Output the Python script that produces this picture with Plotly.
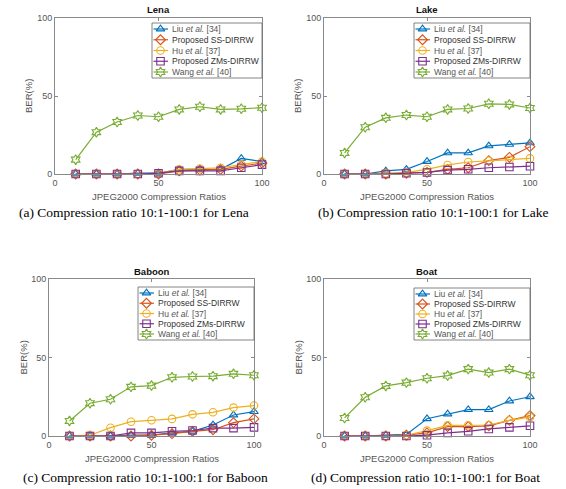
import plotly.graph_objects as go

W, H = 566, 489

# ---------------- data ----------------
x_ratio = [10, 20, 30, 40, 50, 60, 70, 80, 90, 100]
x_ticks = [0, 50, 100]
y_ticks = [0, 50, 100]

method_names = ["Liu <i>et al.</i> [34]", "Proposed SS-DIRRW", "Hu <i>et al.</i> [37]",
                "Proposed ZMs-DIRRW", "Wang <i>et al.</i> [40]"]

lena_liu = [0, 0, 0, 0.5, 0.5, 3, 3, 3, 10, 8]
lena_ss = [0, 0, 0, 0, 0, 2, 2.5, 3, 5, 7]
lena_hu = [0, 0, 0, 0, 0.5, 3, 3.5, 4, 6, 8]
lena_zms = [0, 0, 0, 0, 0.5, 2, 2, 2, 4, 6]
lena_wang = [9.2, 26.8, 33.3, 37.5, 36.7, 41.4, 43.1, 41.4, 41.8, 42.5]

lake_liu = [0, 0, 2, 3, 8, 13.5, 13.5, 18, 19, 20]
lake_ss = [0, 0, 0, 0.5, 1, 3, 4, 8.6, 10.7, 17.5]
lake_hu = [0, 0, 0.5, 1, 3, 5.8, 7.7, 8.5, 9, 10]
lake_zms = [0, 0, 0, 0.5, 1, 2.5, 3, 4, 4.5, 5]
lake_wang = [13.5, 30, 36, 37.8, 36.7, 41.4, 42, 45, 44.6, 42.3]

baboon_liu = [0, 0, 0, 0.5, 0.5, 2, 3, 7, 13.4, 15.5]
baboon_ss = [0, 0, 0, 0, 0.5, 1.5, 3, 4, 8.5, 10.9]
baboon_hu = [0, 0.5, 5.3, 9.1, 10, 10.9, 13.8, 15.1, 18.1, 19.4]
baboon_zms = [0, 0, 0, 2, 2, 3, 3.5, 5, 5, 5.5]
baboon_wang = [9.6, 20.9, 23.4, 31.3, 32.1, 37.4, 37.9, 38.1, 39.6, 38.7]

boat_liu = [0, 0, 0.5, 1, 11, 14, 16.8, 16.8, 22.3, 25]
boat_ss = [0, 0, 0, 0.5, 2, 6, 6, 6.5, 10, 13]
boat_hu = [0, 0, 0, 0.5, 3.4, 6.8, 6.8, 7, 10, 12]
boat_zms = [0, 0, 0, 0, 0.5, 2, 3, 4.5, 5.5, 6.5]
boat_wang = [11.5, 24.7, 31.9, 34, 36.8, 38.5, 42.6, 40.4, 42.6, 38.7]

panel_titles = ["Lena", "Lake", "Baboon", "Boat"]
captions = ["(a) Compression ratio 10:1-100:1 for Lena",
            "(b) Compression ratio 10:1-100:1 for Lake",
            "(c) Compression ratio 10:1-100:1 for Baboon",
            "(d) Compression ratio 10:1-100:1 for Boat"]
x_title = "JPEG2000 Compression Ratios"
y_title = "BER(%)"

panel_series = [
    [lena_liu, lena_ss, lena_hu, lena_zms, lena_wang],
    [lake_liu, lake_ss, lake_hu, lake_zms, lake_wang],
    [baboon_liu, baboon_ss, baboon_hu, baboon_zms, baboon_wang],
    [boat_liu, boat_ss, boat_hu, boat_zms, boat_wang],
]

# ---------------- styles / layout (pixels) ----------------
colors = ["#0072BD", "#D95319", "#EDB120", "#7E2F8E", "#77AC30"]
symbols = ["triangle-up-open", "diamond-open", "circle-open", "square-open", "hexagram-open"]
legend_text_colors = ["#555555", "#333333", "#555555", "#333333", "#555555"]

# plot area: left, right, top, bottom
boxes = [(55, 262, 18, 174), (324, 530, 18, 174), (49, 254, 279, 436), (324, 530, 279, 436)]
# legend boxes: left, right, top, bottom
leg_boxes = [(152, 262, 23, 78), (414, 530, 23, 78), (138, 254, 287, 340), (414, 530, 288, 340)]
caption_pos = [(134, 213), (433, 213), (145, 477), (425, 477)]

SANS = "Liberation Sans, Arial, sans-serif"
SERIF = "Liberation Serif, Times New Roman, serif"
AX_COLOR = "#8a8a8a"
TICK_FONT = dict(family=SANS, size=9, color="#555555")

fig = go.Figure()
annotations = []
shapes = []

def pa(text, px, py, font, **kw):
    d = dict(text=text, x=px / W, y=1 - py / H, xref="paper", yref="paper", showarrow=False,
             xanchor="center", yanchor="middle", font=font)
    d.update(kw)
    return d

for p, (l, r, t, b) in enumerate(boxes):
    idx = "" if p == 0 else str(p + 1)
    xa, ya = "x" + idx, "y" + idx
    for s in range(5):
        fig.add_trace(go.Scatter(
            x=x_ratio, y=panel_series[p][s], mode="lines+markers",
            xaxis=xa, yaxis=ya, showlegend=False, cliponaxis=False,
            line=dict(color=colors[s], width=1.2),
            marker=dict(symbol=symbols[s], size=7.5, color=colors[s], line=dict(width=1.1, color=colors[s])),
        ))
    axcommon = dict(showgrid=False, zeroline=False, showline=True, linecolor=AX_COLOR, linewidth=1,
                    mirror="ticks", ticks="inside", ticklen=3, tickcolor=AX_COLOR, automargin=False,
                    tickfont=TICK_FONT, range=[0, 100], fixedrange=True)
    fig.update_layout(**{
        ("xaxis" + idx): dict(axcommon, domain=[l / W, r / W], anchor=ya, tickvals=x_ticks),
        ("yaxis" + idx): dict(axcommon, domain=[1 - b / H, 1 - t / H], anchor=xa, tickvals=y_ticks),
    })
    cx = (l + r) / 2
    annotations.append(pa("<b>" + panel_titles[p] + "</b>", cx, t - 8,
                          dict(family=SANS, size=9.5, color="#111111")))
    annotations.append(pa(x_title, cx, b + 22, dict(family=SANS, size=9.5, color="#555555")))
    annotations.append(pa(y_title, l - 26, (t + b) / 2, dict(family=SANS, size=9.5, color="#555555"),
                          textangle=-90))
    cxp, cyp = caption_pos[p]
    annotations.append(pa(captions[p], cxp, cyp, dict(family=SERIF, size=13.5, color="#000000")))

# overlay pixel-space axis for legends
fig.update_layout(
    xaxis5=dict(domain=[0, 1], range=[0, W], visible=False, fixedrange=True, anchor="y5", automargin=False),
    yaxis5=dict(domain=[0, 1], range=[H, 0], visible=False, fixedrange=True, anchor="x5", automargin=False),
)
for (ll, lr, lt, lb) in leg_boxes:
    shapes.append(dict(type="rect", xref="x5", yref="y5", x0=ll, x1=lr, y0=lt, y1=lb,
                       fillcolor="white", line=dict(color="#666666", width=0.8), layer="below"))
    step = (lb - lt - 12) / 4
    for s in range(5):
        yy = lt + 6 + step * s
        fig.add_trace(go.Scatter(
            x=[ll + 1.5, ll + 16], y=[yy, yy], mode="lines", xaxis="x5", yaxis="y5",
            showlegend=False, hoverinfo="skip", line=dict(color=colors[s], width=1.2)))
        fig.add_trace(go.Scatter(
            x=[ll + 8.5], y=[yy], mode="markers", xaxis="x5", yaxis="y5",
            showlegend=False, hoverinfo="skip",
            marker=dict(symbol=symbols[s], size=7.5, color=colors[s], line=dict(width=1.1, color=colors[s]))))
        annotations.append(dict(text=method_names[s], x=ll + 17.5, y=yy, xref="x5", yref="y5",
                                xanchor="left", yanchor="middle", showarrow=False,
                                font=dict(family=SANS, size=8.5, color=legend_text_colors[s])))

fig.update_layout(template="none", width=W, height=H, margin=dict(l=0, r=0, t=0, b=0, pad=0),
                  paper_bgcolor="white", plot_bgcolor="rgba(0,0,0,0)",
                  annotations=annotations, shapes=shapes, showlegend=False)

fig.write_html("out.html", config={"displayModeBar": False, "staticPlot": True},
               post_script="document.body.style.margin='0';document.body.style.overflow='hidden';")
